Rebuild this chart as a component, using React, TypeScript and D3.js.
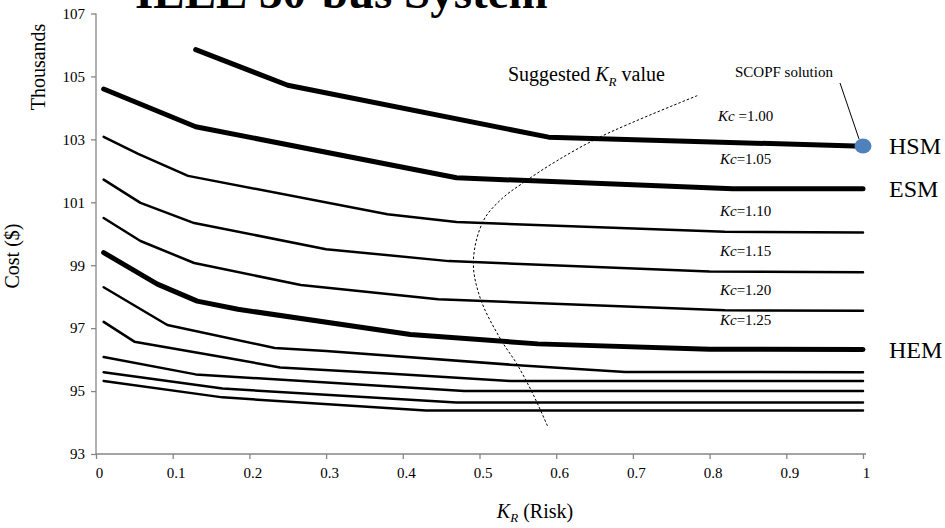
import React, { useEffect, useRef } from "react";
import * as d3 from "d3";

// axis ticks
const xTicks = [0, 0.1, 0.2, 0.3, 0.4, 0.5, 0.6, 0.7, 0.8, 0.9, 1];
const yTicks = [93, 95, 97, 99, 101, 103, 105, 107];

// cost (thousands $) vs K_R, one array per Kc curve
const kc100 = [[0.13, 105.85], [0.25, 104.72], [0.59, 103.07], [1.0, 102.78]]; // HSM
const kc105 = [[0.01, 104.6], [0.13, 103.4], [0.47, 101.78], [0.83, 101.43], [1.0, 101.43]]; // ESM
const kc110 = [[0.01, 103.08], [0.055, 102.54], [0.12, 101.84], [0.38, 100.62], [0.47, 100.37], [0.82, 100.06], [1.0, 100.04]];
const kc115 = [[0.01, 101.72], [0.058, 100.98], [0.128, 100.34], [0.3, 99.51], [0.46, 99.13], [0.8, 98.8], [1.0, 98.78]];
const kc120 = [[0.01, 100.5], [0.058, 99.77], [0.128, 99.07], [0.267, 98.37], [0.446, 97.92], [0.82, 97.57], [1.0, 97.55]];
const kc125 = [[0.01, 99.4], [0.08, 98.4], [0.132, 97.86], [0.185, 97.6], [0.41, 96.8], [0.576, 96.5], [0.8, 96.33], [1.0, 96.32]]; // HEM
const kc130 = [[0.01, 98.3], [0.093, 97.1], [0.233, 96.37], [0.3, 96.27], [0.54, 95.84], [0.69, 95.61], [1.0, 95.6]];
const kc135 = [[0.01, 97.2], [0.05, 96.57], [0.17, 96.06], [0.24, 95.75], [0.38, 95.56], [0.54, 95.32], [1.0, 95.32]];
const kc140 = [[0.01, 96.08], [0.13, 95.53], [0.48, 95.0], [1.0, 95.0]];
const kc145 = [[0.01, 95.6], [0.165, 95.08], [0.47, 94.64], [1.0, 94.64]];
const kc150 = [[0.01, 95.32], [0.165, 94.8], [0.43, 94.38], [1.0, 94.38]];

// dotted "suggested K_R" curve
const suggestedKr = [[0.784, 104.39], [0.661, 103.12], [0.601, 102.32], [0.557, 101.62], [0.529, 101.11], [0.505, 100.41], [0.492, 99.13], [0.501, 97.95], [0.527, 96.67], [0.549, 95.85], [0.57, 94.89], [0.589, 93.87]];

const scopfPoint = [1.0, 102.79];

const kcNames = ["1.00", "1.05", "1.10", "1.15", "1.20", "1.25"];
const methodNames = ["HSM", "ESM", "HEM"];

const font = "Liberation Serif, Times New Roman, serif";

export default function App() {
  const ref = useRef<SVGSVGElement | null>(null);

  useEffect(() => {
    const svg = d3.select(ref.current);
    svg.selectAll("*").remove();

    const x = d3.scaleLinear().domain([0, 1]).range([96, 863]);
    const y = d3.scaleLinear().domain([93, 107]).range([454, 13.5]);

    const curves = [kc100, kc105, kc110, kc115, kc120, kc125, kc130, kc135, kc140, kc145, kc150];
    const thick = [true, true, false, false, false, true, false, false, false, false, false];

    // title, mostly clipped by the top edge like the original
    svg.append("text")
      .attr("x", 135).attr("y", 8)
      .attr("font-family", font).attr("font-weight", "bold").attr("font-size", 47)
      .text("IEEE 30-bus System");

    // axes
    const yAxis = svg.append("g").attr("transform", "translate(" + x(0) + ",0)")
      .call(d3.axisLeft(y).tickValues(yTicks).tickSize(5).tickFormat(d3.format("d")));
    const xAxis = svg.append("g").attr("transform", "translate(0," + y(93) + ")")
      .call(d3.axisBottom(x).tickValues(xTicks).tickSize(5).tickFormat((d: any) => (d === 0 || d === 1 ? String(d) : d3.format(".1f")(d))));
    [yAxis, xAxis].forEach(g => {
      g.attr("font-family", font).attr("font-size", 15);
      g.select(".domain").attr("stroke", "#868686").attr("stroke-width", 1.3);
      g.selectAll(".tick line").attr("stroke", "#868686").attr("stroke-width", 1.3);
      g.selectAll(".tick text").attr("fill", "#000").attr("font-family", font).attr("font-size", 15);
    });
    yAxis.selectAll(".tick text").attr("x", -11);
    xAxis.selectAll(".tick text").attr("dx", 3).attr("y", 13);
    yAxis.select(".domain").attr("d", "M0," + y(107) + "V" + y(93));
    xAxis.select(".domain").attr("d", "M" + x(0) + ",0H" + (x(1) + 3));

    const line = d3.line<number[]>().x(d => x(d[0])).y(d => y(d[1]));

    svg.append("g").selectAll("path")
      .data(curves)
      .enter()
      .append("path")
      .attr("d", d => line(d))
      .attr("fill", "none")
      .attr("stroke", "#000")
      .attr("stroke-width", (d, i) => (thick[i] ? 5 : 2.5))
      .attr("stroke-linecap", "round")
      .attr("stroke-linejoin", "round");

    // suggested K_R dotted curve
    svg.append("path")
      .attr("d", d3.line<number[]>().x(d => x(d[0])).y(d => y(d[1])).curve(d3.curveCatmullRom)(suggestedKr))
      .attr("fill", "none").attr("stroke", "#000").attr("stroke-width", 1).attr("stroke-dasharray", "2.5,2");

    // Kc labels
    kcNames.forEach((k, i) => {
      const pts = curves[i];
      const t = svg.append("text")
        .attr("x", x(0.847)).attr("y", y(pts[pts.length - 1][1]) - (thick[i] ? 25 : 16))
        .attr("text-anchor", "middle").attr("font-family", font).attr("font-size", 15);
      t.append("tspan").attr("font-style", "italic").text("Kc");
      t.append("tspan").text((i === 0 ? " =" : "=") + k);
    });

    // method labels on the right
    [kc100, kc105, kc125].forEach((pts, i) => {
      svg.append("text")
        .attr("x", 889).attr("y", y(pts[pts.length - 1][1]) + 8)
        .attr("font-family", font).attr("font-size", 24)
        .text(methodNames[i]);
    });

    // SCOPF solution marker
    svg.append("line")
      .attr("x1", 840).attr("y1", 83).attr("x2", x(scopfPoint[0]) - 4).attr("y2", y(scopfPoint[1]) - 7)
      .attr("stroke", "#000").attr("stroke-width", 1);
    svg.append("ellipse")
      .attr("cx", x(scopfPoint[0])).attr("cy", y(scopfPoint[1]))
      .attr("rx", 8.5).attr("ry", 7.5).attr("fill", "#4F81BD");
    svg.append("text")
      .attr("x", 735).attr("y", 77).attr("font-family", font).attr("font-size", 15)
      .text("SCOPF solution");

    // "Suggested K_R value"
    const sg = svg.append("text").attr("x", 508).attr("y", 81).attr("font-family", font).attr("font-size", 20);
    sg.append("tspan").text("Suggested ");
    sg.append("tspan").attr("font-style", "italic").text("K");
    sg.append("tspan").attr("font-style", "italic").attr("font-size", 13).attr("dy", 5).text("R");
    sg.append("tspan").attr("dy", -5).text(" value");

    // axis titles
    const xt = svg.append("text").attr("x", 535).attr("y", 518).attr("text-anchor", "middle")
      .attr("font-family", font).attr("font-size", 20);
    xt.append("tspan").attr("font-style", "italic").text("K");
    xt.append("tspan").attr("font-style", "italic").attr("font-size", 13).attr("dy", 4).text("R");
    xt.append("tspan").attr("dy", -4).text(" (Risk)");

    svg.append("text")
      .attr("transform", "translate(19,256) rotate(-90)")
      .attr("text-anchor", "middle").attr("font-family", font).attr("font-size", 20)
      .text("Cost ($)");
    svg.append("text")
      .attr("transform", "translate(45,67) rotate(-90)")
      .attr("text-anchor", "middle").attr("font-family", font).attr("font-size", 20)
      .text("Thousands");
  }, []);

  return (
    <svg
      ref={ref}
      width={945}
      height={528}
      style={{ position: "absolute", left: 0, top: 0, background: "#fff" }}
    />
  );
}
